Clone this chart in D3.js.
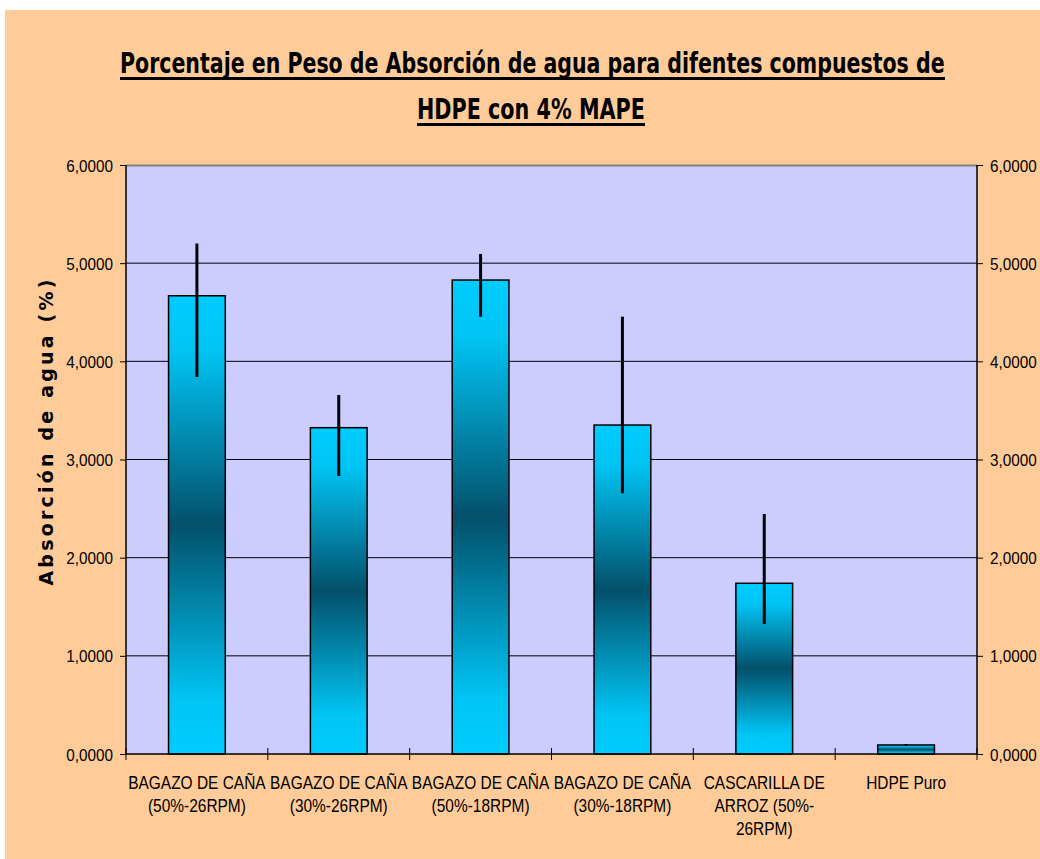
<!DOCTYPE html>
<html><head><meta charset="utf-8">
<script src="https://cdn.jsdelivr.net/npm/d3@7/dist/d3.min.js"></script>
<style>body{margin:0;background:#fff}svg{display:block}</style>
</head><body>
<script>
const categories = [
  ["BAGAZO DE CAÑA","(50%-26RPM)"],
  ["BAGAZO DE CAÑA","(30%-26RPM)"],
  ["BAGAZO DE CAÑA","(50%-18RPM)"],
  ["BAGAZO DE CAÑA","(30%-18RPM)"],
  ["CASCARILLA DE","ARROZ (50%-","26RPM)"],
  ["HDPE Puro"]
];
const values   = [4.668, 3.324, 4.828, 3.351, 1.739, 0.092];
const errUpper = [5.200, 3.657, 5.093, 4.455, 2.445, 0.102];
const errLower = [3.840, 2.832, 4.455, 2.656, 1.324, 0.082];
const yTicks = [0,1,2,3,4,5,6];
const titleLines = ["Porcentaje en Peso de Absorción de agua para difentes compuestos de","HDPE con 4% MAPE"];
const yTitle = "Absorción de agua (%)";

const W=1040,H=859;
const svg=d3.select("body").append("svg").attr("width",W).attr("height",H);
svg.append("rect").attr("x",5).attr("y",10).attr("width",W-5).attr("height",H-10).attr("fill","#FFCC99");

const m={l:126,r:977,t:165,b:754};
const x=d3.scaleBand().domain(d3.range(categories.length)).range([m.l,m.r]).paddingInner(0.6).paddingOuter(0.3);
const y=d3.scaleLinear().domain([0,6]).range([m.b,m.t]);

const defs=svg.append("defs");
const g=defs.append("linearGradient").attr("id","bg").attr("x1",0).attr("y1",0).attr("x2",0).attr("y2",1);
[[0,"#00CCFF"],[0.12,"#00C4F4"],[0.5,"#03506A"],[0.88,"#00C4F4"],[1,"#00CCFF"]].forEach(s=>g.append("stop").attr("offset",s[0]).attr("stop-color",s[1]));

svg.append("rect").attr("x",m.l).attr("y",m.t).attr("width",m.r-m.l).attr("height",m.b-m.t).attr("fill","#CCCCFF");
svg.append("g").selectAll("line").data(yTicks.filter(d=>d>0&&d<6)).join("line")
  .attr("x1",m.l).attr("x2",m.r).attr("y1",d=>y(d)).attr("y2",d=>y(d)).attr("stroke","#000").attr("stroke-width",1);
svg.append("line").attr("x1",m.l).attr("x2",m.r).attr("y1",m.t+0.5).attr("y2",m.t+0.5).attr("stroke","#808080").attr("stroke-width",2);

svg.append("g").selectAll("rect").data(values).join("rect")
  .attr("x",(d,i)=>x(i)).attr("width",x.bandwidth())
  .attr("y",d=>y(d)).attr("height",d=>y(0)-y(d))
  .attr("fill","url(#bg)").attr("stroke","#000").attr("stroke-width",1.5);

svg.append("g").selectAll("line").data(values).join("line")
  .attr("x1",(d,i)=>x(i)+x.bandwidth()/2).attr("x2",(d,i)=>x(i)+x.bandwidth()/2)
  .attr("y1",(d,i)=>y(errUpper[i])).attr("y2",(d,i)=>y(errLower[i]))
  .attr("stroke","#000").attr("stroke-width",3);

const fontT="Liberation Sans, Arial, sans-serif";
const fmt=d=>d3.format(".4f")(d).replace(".",",");
function yAxis(side){
  const gx = side==="l"?m.l:m.r;
  const a=svg.append("g").attr("transform",`translate(${gx},0)`)
    .call((side==="l"?d3.axisLeft(y):d3.axisRight(y)).tickValues(yTicks).tickSize(6).tickFormat(""));
  a.select(".domain").attr("stroke","#000").attr("stroke-width",1.5).attr("d",`M0,${m.t}V${m.b}`);
  a.selectAll("line").attr("stroke","#000");
  a.selectAll(".tick").append("text")
    .attr("transform",side==="l"?"translate(-13,6) scale(0.9,1)":"translate(13,6) scale(0.9,1)")
    .attr("text-anchor",side==="l"?"end":"start")
    .attr("font-family",fontT).attr("font-size",17).attr("fill","#000").text(d=>fmt(d));
}
yAxis("l"); yAxis("r");

const xa=svg.append("g").attr("transform",`translate(0,${m.b})`);
xa.append("line").attr("x1",m.l).attr("x2",m.r).attr("stroke","#000").attr("stroke-width",1.5);
xa.selectAll("line.t").data(d3.range(categories.length+1)).join("line").attr("class","t")
  .attr("x1",i=>m.l+i*(m.r-m.l)/categories.length).attr("x2",i=>m.l+i*(m.r-m.l)/categories.length)
  .attr("y1",-6).attr("y2",6).attr("stroke","#000");
categories.forEach((d,i)=>{
  d.forEach((s,k)=>{
    xa.append("text").attr("transform",`translate(${x(i)+x.bandwidth()/2},${35+k*23}) scale(0.86,1)`)
      .attr("text-anchor","middle").attr("font-family",fontT).attr("font-size",18).attr("fill","#000").text(s);
  });
});

const tt=svg.append("g").attr("font-family","DejaVu Sans Condensed, DejaVu Sans, sans-serif").attr("font-weight","bold").attr("fill","#000");
function fitText(str,x0,yb,w,fs){
  const t=tt.append("text").attr("font-size",fs).attr("x",0).attr("y",0).text(str);
  const len=t.node().getComputedTextLength();
  t.attr("transform",`translate(${x0},${yb}) scale(${w/len},1)`);
  tt.append("rect").attr("x",x0).attr("y",yb+4).attr("width",w).attr("height",3);
}
fitText(titleLines[0],120,73,825,28);
fitText(titleLines[1],417,119,228,28);

svg.append("text").attr("transform",`translate(53,431) rotate(-90)`)
  .attr("text-anchor","middle").attr("font-family","DejaVu Sans, sans-serif").attr("font-weight","bold")
  .attr("font-size",19).attr("letter-spacing",3.2).attr("fill","#000").text(yTitle);
</script>
</body></html>
